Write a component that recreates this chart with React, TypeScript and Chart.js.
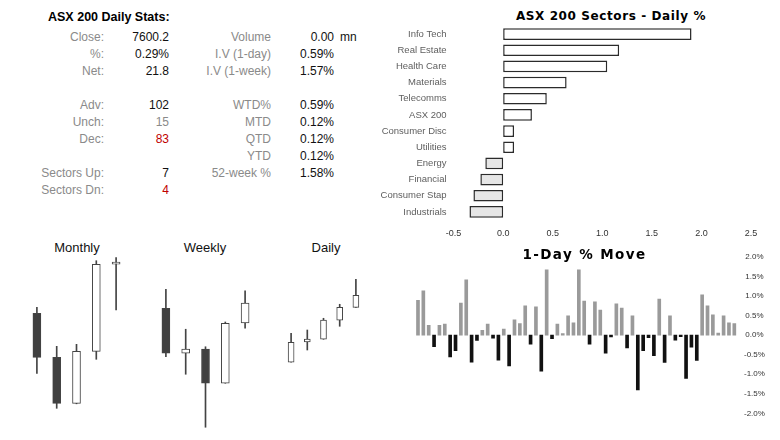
import React, { useEffect, useRef } from "react";
import { Chart, registerables } from "chart.js";

Chart.register(...registerables);

// ---------- Stats table ----------
const statLabelsLeft = ["Close:", "%:", "Net:", "Adv:", "Unch:", "Dec:", "Sectors Up:", "Sectors Dn:"];
const statValuesLeft = ["7600.2", "0.29%", "21.8", "102", "15", "83", "7", "4"];
const statLabelsRight = ["Volume", "I.V (1-day)", "I.V (1-week)", "WTD%", "MTD", "QTD", "YTD", "52-week %"];
const statValuesRight = ["0.00", "0.59%", "1.57%", "0.59%", "0.12%", "0.12%", "0.12%", "1.58%"];

// ---------- Sectors ----------
const sectorNames = [
  "Info Tech", "Real Estate", "Health Care", "Materials", "Telecomms", "ASX 200",
  "Consumer Disc", "Utilities", "Energy", "Financial", "Consumer Stap", "Industrials",
];
const sectorValues = [1.9, 1.17, 1.05, 0.64, 0.44, 0.29, 0.11, 0.11, -0.18, -0.23, -0.3, -0.34];

// ---------- Candles ----------
const monthlyLabels = ["Sep", "Oct", "Nov", "Dec", "Jan"];
const monthlyOpen = [7307.1, 7052.3, 6786.0, 7087.1, 7592.0];
const monthlyHigh = [7341.8, 7116.0, 7127.6, 7611.6, 7629.0];
const monthlyLow = [6959.7, 6757.0, 6783.0, 7040.8, 7326.2];
const monthlyClose = [7052.3, 6786.0, 7087.1, 7590.8, 7596.0];

const weeklyLabels = ["W1", "W2", "W3", "W4", "W5"];
const weeklyOpen = [7579, 7399, 7416, 7279, 7520];
const weeklyHigh = [7655, 7495, 7425, 7524, 7649];
const weeklyLow = [7385, 7315, 7103, 7279, 7499];
const weeklyClose = [7399, 7416, 7279, 7519, 7600];

const dailyLabels = ["D1", "D2", "D3", "D4", "D5"];
const dailyOpen = [7479.6, 7516.1, 7521.0, 7555.2, 7578.4];
const dailyHigh = [7531.8, 7537.7, 7558.8, 7584.0, 7629.0];
const dailyLow = [7479.6, 7501.7, 7521.0, 7544.4, 7578.4];
const dailyClose = [7515.6, 7521.5, 7555.7, 7578.6, 7600.2];

// ---------- 1-day % moves ----------
const dayMoves = [
  0.89, 1.13, 0.25, -0.3, 0.25, 0.28, -0.56, -0.4, 0.82, 1.41, -0.69, -0.14, 0.12, 0.28, -0.08,
  -0.64, 0.15, -0.79, 0.39, 0.29, 0.75, -0.23, 0.72, -0.92, 1.67, -0.09, 0.28, 0.04, 0.49, 0.31,
  1.67, 0.87, -0.23, 0.85, 0.64, -0.46, -0.05, 0.8, 0.69, -0.33, 0.49, -1.4, -0.4, -0.07, -0.53,
  0.92, -0.7, 0.49, -0.13, -0.04, -1.11, -0.31, -0.65, 1.03, 0.75, 0.52, 0.05, 0.49, 0.31, 0.29,
];
const dayLabels = dayMoves.map((_, i) => String(i + 1));

const FONT = '"Liberation Sans", Arial, sans-serif';
const TITLE_FONT = '"DejaVu Sans", "Liberation Sans", sans-serif';

function sectorConfig(): any {
  return {
    type: "bar",
    data: {
      labels: sectorNames,
      datasets: [
        {
          data: sectorValues,
          backgroundColor: sectorValues.map((v) => (v >= 0 ? "#ffffff" : "#e6e6e6")),
          borderColor: "#2b2b2b",
          borderWidth: 1.5,
          borderSkipped: false,
          categoryPercentage: 1,
          barPercentage: 0.72,
        },
      ],
    },
    options: {
      indexAxis: "y",
      animation: false,
      responsive: false,
      devicePixelRatio: 1,
      layout: { padding: { top: 26, right: 29, left: 0, bottom: 0 } },
      plugins: { legend: { display: false }, tooltip: { enabled: false } },
      scales: {
        x: {
          min: -0.5,
          max: 2.5,
          ticks: {
            stepSize: 0.5,
            callback: (v: number) => v.toFixed(1),
            color: "#333",
            font: { family: FONT, size: 9 },
            padding: 8,
            maxRotation: 0,
          },
          grid: { display: false, drawTicks: false },
          border: { display: false },
          afterFit: (s: any) => {
            s.height = 20;
          },
        },
        y: {
          ticks: { color: "#5e5e5e", font: { family: FONT, size: 9.5 }, padding: 7 },
          grid: { display: false, drawTicks: false },
          border: { display: false },
          afterFit: (s: any) => {
            s.width = 83.6;
          },
        },
      },
    },
  };
}

function candleConfig(
  labels: string[], open: number[], high: number[], low: number[], close: number[],
  min: number, max: number, bodyWidth: number
): any {
  return {
    type: "bar",
    data: {
      labels,
      datasets: [
        {
          data: labels.map((_, i) => [low[i], high[i]]),
          backgroundColor: "#444444",
          borderWidth: 0,
          barThickness: 1,
          grouped: false,
          order: 2,
        },
        {
          data: labels.map((_, i) => [open[i], close[i]]),
          backgroundColor: labels.map((_, i) => (close[i] >= open[i] ? "#ffffff" : "#404040")),
          borderColor: "#444444",
          borderWidth: 1,
          borderSkipped: false,
          barThickness: bodyWidth,
          minBarLength: 2,
          grouped: false,
          order: 1,
        },
      ],
    },
    options: {
      animation: false,
      responsive: false,
      devicePixelRatio: 1,
      layout: { padding: 0 },
      plugins: { legend: { display: false }, tooltip: { enabled: false } },
      scales: {
        x: { display: false },
        y: { display: false, min, max },
      },
    },
  };
}

function moveConfig(): any {
  return {
    type: "bar",
    data: {
      labels: dayLabels,
      datasets: [
        {
          data: dayMoves,
          backgroundColor: dayMoves.map((v) => (v >= 0 ? "#9a9a9a" : "#111111")),
          borderWidth: 0,
          barThickness: 3,
        },
      ],
    },
    options: {
      animation: false,
      responsive: false,
      devicePixelRatio: 1,
      layout: { padding: { left: 15.3, top: 10.7, bottom: 26.7, right: 0 } },
      plugins: { legend: { display: false }, tooltip: { enabled: false } },
      scales: {
        x: { display: false },
        y: {
          position: "right",
          min: -2,
          max: 2,
          ticks: {
            stepSize: 0.5,
            callback: (v: number) => v.toFixed(1) + "%",
            color: "#333",
            font: { family: FONT, size: 8 },
            crossAlign: "center",
            padding: 7,
          },
          grid: { display: false, drawTicks: false },
          border: { display: false },
          afterFit: (s: any) => {
            s.width = 43;
          },
        },
      },
    },
  };
}

function ChartBox(props: { left: number; top: number; width: number; height: number; make: () => any }) {
  const ref = useRef<HTMLCanvasElement>(null);
  useEffect(() => {
    const chart = new Chart(ref.current as HTMLCanvasElement, props.make());
    return () => chart.destroy();
  }, []);
  return (
    <canvas
      ref={ref}
      width={props.width}
      height={props.height}
      style={{ position: "absolute", left: props.left, top: props.top, width: props.width, height: props.height }}
    />
  );
}

function T(props: { x: number; y: number; align?: "left" | "right" | "center"; style?: React.CSSProperties; children: React.ReactNode }) {
  const w = 240;
  const align = props.align || "right";
  const left = align === "right" ? props.x - w : align === "center" ? props.x - w / 2 : props.x;
  return (
    <div
      style={{
        position: "absolute",
        left,
        top: props.y - 8,
        width: w,
        height: 16,
        lineHeight: "16px",
        textAlign: align,
        whiteSpace: "nowrap",
        ...props.style,
      }}
    >
      {props.children}
    </div>
  );
}

export default function App() {
  const leftRows = [0, 1, 2, 4, 5, 6, 8, 9];
  const rightRows = [0, 1, 2, 4, 5, 6, 7, 8];
  const rowY = (r: number) => 37 + r * 17;
  const gray = "#8a8a8a";
  const red = "#c00000";
  const leftValueColor = (i: number) => (i === 4 ? gray : i === 5 || i === 7 ? red : "#111");

  return (
    <div
      style={{
        position: "fixed",
        left: 0,
        top: 0,
        width: 780,
        height: 440,
        background: "#fff",
        overflow: "hidden",
        fontFamily: FONT,
        fontSize: 12,
      }}
    >
      {/* Stats */}
      <T x={48} y={17} align="left" style={{ fontWeight: "bold", fontSize: 12.5, color: "#000" }}>
        ASX 200 Daily Stats:
      </T>
      {statLabelsLeft.map((s, i) => (
        <T key={"ll" + i} x={104} y={rowY(leftRows[i])} style={{ color: gray }}>
          {s}
        </T>
      ))}
      {statValuesLeft.map((s, i) => (
        <T key={"lv" + i} x={169} y={rowY(leftRows[i])} style={{ color: leftValueColor(i) }}>
          {s}
        </T>
      ))}
      {statLabelsRight.map((s, i) => (
        <T key={"rl" + i} x={271} y={rowY(rightRows[i])} style={{ color: gray }}>
          {s}
        </T>
      ))}
      {statValuesRight.map((s, i) => (
        <T key={"rv" + i} x={334} y={rowY(rightRows[i])} style={{ color: "#111" }}>
          {s}
        </T>
      ))}
      <T x={340} y={rowY(0)} align="left" style={{ color: "#111" }}>
        mn
      </T>

      {/* Sector chart */}
      <T x={611} y={16} align="center" style={{ fontFamily: TITLE_FONT, fontWeight: "bold", fontSize: 12, letterSpacing: 0.6, color: "#000" }}>
        ASX 200 Sectors - Daily %
      </T>
      <ChartBox left={370} top={0} width={410} height={240} make={sectorConfig} />

      {/* Candles */}
      <T x={77} y={248} align="center" style={{ fontSize: 13, color: "#111" }}>Monthly</T>
      <T x={205} y={248} align="center" style={{ fontSize: 13, color: "#111" }}>Weekly</T>
      <T x={326} y={248} align="center" style={{ fontSize: 13, color: "#111" }}>Daily</T>
      <ChartBox
        left={27}
        top={250}
        width={99}
        height={180}
        make={() => candleConfig(monthlyLabels, monthlyOpen, monthlyHigh, monthlyLow, monthlyClose, 6631.4, 7673.6, 8)}
      />
      <ChartBox
        left={156}
        top={250}
        width={99}
        height={180}
        make={() => candleConfig(weeklyLabels, weeklyOpen, weeklyHigh, weeklyLow, weeklyClose, 7092, 7812, 8)}
      />
      <ChartBox
        left={283}
        top={250}
        width={81}
        height={180}
        make={() => candleConfig(dailyLabels, dailyOpen, dailyHigh, dailyLow, dailyClose, 7357.7, 7681.7, 6)}
      />

      {/* 1-day move */}
      <ChartBox left={400} top={245} width={380} height={195} make={moveConfig} />
      <T x={584.5} y={254} align="center" style={{ fontFamily: TITLE_FONT, fontWeight: "bold", fontSize: 13.5, letterSpacing: 1.4, color: "#000" }}>
        1-Day % Move
      </T>
    </div>
  );
}
